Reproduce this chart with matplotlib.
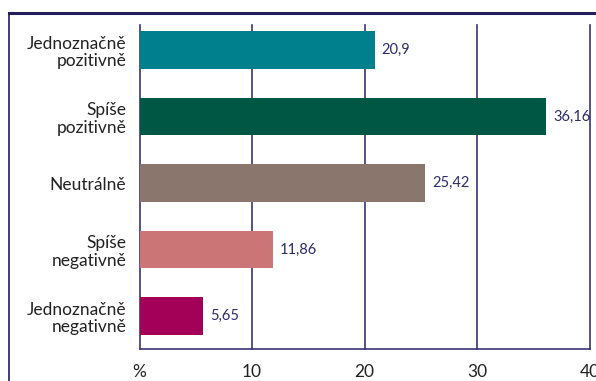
import matplotlib.pyplot as plt
import numpy as np

categories = ["Jednoznačně\npozitivně", "Spíše\npozitivně", "Neutrálně",
              "Spíše\nnegativně", "Jednoznačně\nnegativně"]
values = [20.9, 36.16, 25.42, 11.86, 5.65]
value_labels = ["20,9", "36,16", "25,42", "11,86", "5,65"]
colors = ["#00808C", "#005744", "#8A766C", "#CC7576", "#A30057"]
xticks = [0, 10, 20, 30, 40]
xtick_labels = ["%", "10", "20", "30", "40"]

plt.rcParams['font.family'] = ['Lato', 'DejaVu Sans']
navy = "#3B3572"

fig = plt.figure(figsize=(5.96, 3.81), dpi=100)
ax = fig.add_axes([139.5 / 596, 32 / 381, 450 / 596, 324 / 381])

y = np.arange(len(categories))
ax.barh(y, values, height=0.57, color=colors, zorder=3)
for yi, v, lab in zip(y, values, value_labels):
    ax.text(v + 0.6, yi, lab, va='center', ha='left', fontsize=10.5, color="#2E2A6B")

ax.set_xlim(0, 40)
ax.set_ylim(4.496, -0.376)
ax.set_xticks(xticks)
ax.set_xticklabels(xtick_labels, fontsize=12.5, color="#222222")
ax.set_yticks(y)
ax.set_yticklabels(categories, fontsize=12.5, color="#222222", ha='right',
                   multialignment='right', linespacing=1.15)
ax.tick_params(axis='both', length=0)
ax.tick_params(axis='x', pad=11)
ax.tick_params(axis='y', pad=9.5)
ax.grid(axis='x', color=navy, linewidth=1.2, zorder=0)
for s in ['top', 'right', 'left']:
    ax.spines[s].set_visible(False)
ax.spines['bottom'].set_color(navy)
ax.spines['bottom'].set_linewidth(1.2)
for gl in ax.get_xgridlines():
    gl.set_clip_on(False)

# outer frame of the original page
fig.add_artist(plt.Line2D([8.5 / 596, 1.0], [1 - 12.5 / 381, 1 - 12.5 / 381],
                          color="#231D5A", linewidth=2.2))
fig.add_artist(plt.Line2D([9 / 596, 9 / 596], [0, 1 - 12.5 / 381],
                          color="#231D5A", linewidth=1.2))

fig.savefig("out.png", dpi=100)
